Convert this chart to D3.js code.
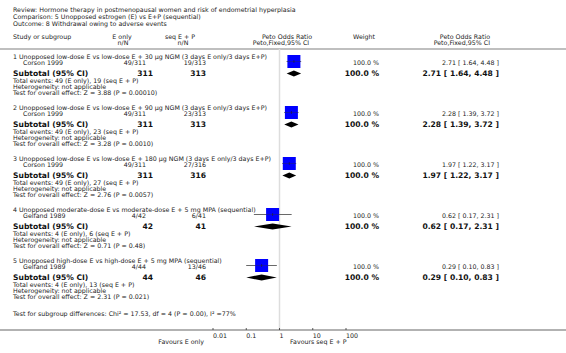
<!DOCTYPE html>
<html lang="en">
<head>
  <meta charset="UTF-8">
  <title>Withdrawal owing to adverse events - forest plot</title>
  <script src="https://d3js.org/d3.v7.min.js"></script>
  <style>
    body { margin: 0; background: #fff; }
    svg { display: block; font-family: 'DejaVu Sans', Verdana, sans-serif; }
    .sm { font-size: 6.3px; fill: #222; }
    .bd { font-size: 7.6px; font-weight: bold; fill: #111; }
  </style>
</head>
<body>
  <div id="chart"></div>
  <script>
    // header text
    const titleLines = [
      "Review:  Hormone therapy in postmenopausal women and risk of endometrial hyperplasia",
      "Comparison:  5 Unopposed estrogen (E) vs E+P (sequential)",
      "Outcome:  8 Withdrawal owing to adverse events"
    ];

    // one entry per subgroup
    const groupNames = [
      "1 Unopposed low-dose E vs low-dose E + 30 \u00b5g NGM (3 days E only/3 days E+P)",
      "2 Unopposed low-dose E vs low-dose E + 90 \u00b5g NGM (3 days E only/3 days E+P)",
      "3 Unopposed low-dose E vs low-dose E + 180 \u00b5g NGM (3 days E only/3 days E+P)",
      "4 Unopposed moderate-dose E vs moderate-dose E + 5 mg MPA (sequential)",
      "5 Unopposed high-dose E vs high-dose E + 5 mg MPA (sequential)"
    ];
    const studies = ["Corson 1999", "Corson 1999", "Corson 1999", "Gelfand 1989", "Gelfand 1989"];
    const eEvents = [49, 49, 49, 4, 4];
    const eTotal = [311, 311, 311, 42, 44];
    const pEvents = [19, 23, 27, 6, 13];
    const pTotal = [313, 313, 316, 41, 46];
    const weights = [100, 100, 100, 100, 100];
    const oddsRatio = [2.71, 2.28, 1.97, 0.62, 0.29];
    const ciLow = [1.64, 1.39, 1.22, 0.17, 0.10];
    const ciHigh = [4.48, 3.72, 3.17, 2.31, 0.83];
    const overallZ = ["Z = 3.88 (P = 0.00010)", "Z = 3.28 (P = 0.0010)", "Z = 2.76 (P = 0.0057)",
                      "Z = 0.71 (P = 0.48)", "Z = 2.31 (P = 0.021)"];
    const subgroupTest = "Test for subgroup differences: Chi\u00b2 = 17.53, df = 4 (P = 0.00), I\u00b2 =77%";
    const axisTicks = [0.01, 0.1, 1, 10, 100];

    const W = 566, H = 353;
    const svg = d3.select("#chart").append("svg").attr("width", W).attr("height", H);

    // row offsets (px) inside a subgroup block, blocks 51px apart
    const rowOff = { title: 0, study: 6, subtotal: 16.5, events: 24, het: 30, test: 36 };
    const y = d3.scaleLinear().domain([0, 1]).range([57, 108]);
    const x = d3.scaleLog().domain([0.01, 100]).range([213, 346]);

    const fmt = d3.format(".2f");
    const txt = (cls, xx, yy, s, anchor) => svg.append("text").attr("class", cls)
      .attr("x", xx).attr("y", yy).attr("dy", "0.35em")
      .attr("text-anchor", anchor || "start").text(s);

    titleLines.forEach((t, i) => txt("sm", 13, 10 + i * 7, t));

    // column headers
    txt("sm", 13, 37, "Study or subgroup");
    txt("sm", 122, 37, "E only", "middle");
    txt("sm", 123, 43, "n/N", "middle");
    txt("sm", 180, 37, "seq E + P", "middle");
    txt("sm", 183, 43, "n/N", "middle");
    txt("sm", 287, 37, "Peto Odds Ratio", "middle");
    txt("sm", 281, 43, "Peto,Fixed,95% CI", "middle");
    txt("sm", 364, 37, "Weight", "middle");
    txt("sm", 490, 37, "Peto Odds Ratio", "end");
    txt("sm", 490, 43, "Peto,Fixed,95% CI", "end");

    svg.append("line").attr("x1", 0).attr("x2", W).attr("y1", 49).attr("y2", 49)
      .attr("stroke", "#aaa").attr("stroke-width", 1.5);

    // line of no effect
    svg.append("line").attr("x1", x(1)).attr("x2", x(1)).attr("y1", 49).attr("y2", 330)
      .attr("stroke", "#ddd").attr("stroke-width", 1.5);

    groupNames.forEach((g, i) => {
      const y0 = y(i);
      const yS = y0 + rowOff.study, yT = y0 + rowOff.subtotal;
      txt("sm", 13, y0, g);
      txt("sm", 23, yS, studies[i]);
      txt("sm", 146, yS, `${eEvents[i]}/${eTotal[i]}`, "end");
      txt("sm", 206, yS, `${pEvents[i]}/${pTotal[i]}`, "end");
      txt("sm", 379, yS, `${d3.format(".1f")(weights[i])} %`, "end");
      txt("sm", 499, yS, `${fmt(oddsRatio[i])} [ ${fmt(ciLow[i])}, ${fmt(ciHigh[i])} ]`, "end");

      txt("bd", 13, yT, "Subtotal (95% CI)");
      txt("bd", 153, yT, eTotal[i], "end");
      txt("bd", 206, yT, pTotal[i], "end");
      txt("bd", 379, yT, `${d3.format(".1f")(weights[i])} %`, "end");
      txt("bd", 499, yT, `${fmt(oddsRatio[i])} [ ${fmt(ciLow[i])}, ${fmt(ciHigh[i])} ]`, "end");

      txt("sm", 13, y0 + rowOff.events, `Total events: ${eEvents[i]} (E only), ${pEvents[i]} (seq E + P)`);
      txt("sm", 13, y0 + rowOff.het, "Heterogeneity: not applicable");
      txt("sm", 13, y0 + rowOff.test, `Test for overall effect: ${overallZ[i]}`);

      // study marker
      const ys = yS - 1.5;
      svg.append("line").attr("x1", x(ciLow[i])).attr("x2", x(ciHigh[i]))
        .attr("y1", ys).attr("y2", ys).attr("stroke", "#888").attr("stroke-width", 1);
      svg.append("rect").attr("x", x(oddsRatio[i]) - 6.5).attr("y", ys - 6.5)
        .attr("width", 13).attr("height", 13).attr("fill", "#0000ff");
      svg.append("line").attr("x1", x(ciLow[i])).attr("x2", x(ciHigh[i]))
        .attr("y1", ys).attr("y2", ys).attr("stroke", "#333").attr("stroke-width", 0.6)
        .attr("stroke-opacity", 0.6);
      svg.append("line").attr("x1", x(oddsRatio[i])).attr("x2", x(oddsRatio[i]))
        .attr("y1", ys - 1.5).attr("y2", ys + 1.5).attr("stroke", "#222").attr("stroke-width", 0.6);

      // subtotal diamond
      svg.append("path")
        .attr("d", `M${x(ciLow[i])},${yT} L${x(oddsRatio[i])},${yT - 3} L${x(ciHigh[i])},${yT} L${x(oddsRatio[i])},${yT + 3} Z`)
        .attr("fill", "#000");
    });

    txt("sm", 13, 314, subgroupTest);

    // axis
    svg.append("line").attr("x1", 0).attr("x2", W).attr("y1", 330).attr("y2", 330)
      .attr("stroke", "#999").attr("stroke-width", 1.5);
    axisTicks.forEach(t => {
      svg.append("line").attr("x1", x(t)).attr("x2", x(t)).attr("y1", 328).attr("y2", 330)
        .attr("stroke", "#333").attr("stroke-width", 0.8);
      txt("sm", x(t), 335.5, String(t));
    });
    txt("sm", 204, 341.5, "Favours E only", "end");
    txt("sm", 290, 341.5, "Favours seq E + P");
  </script>
</body>
</html>
